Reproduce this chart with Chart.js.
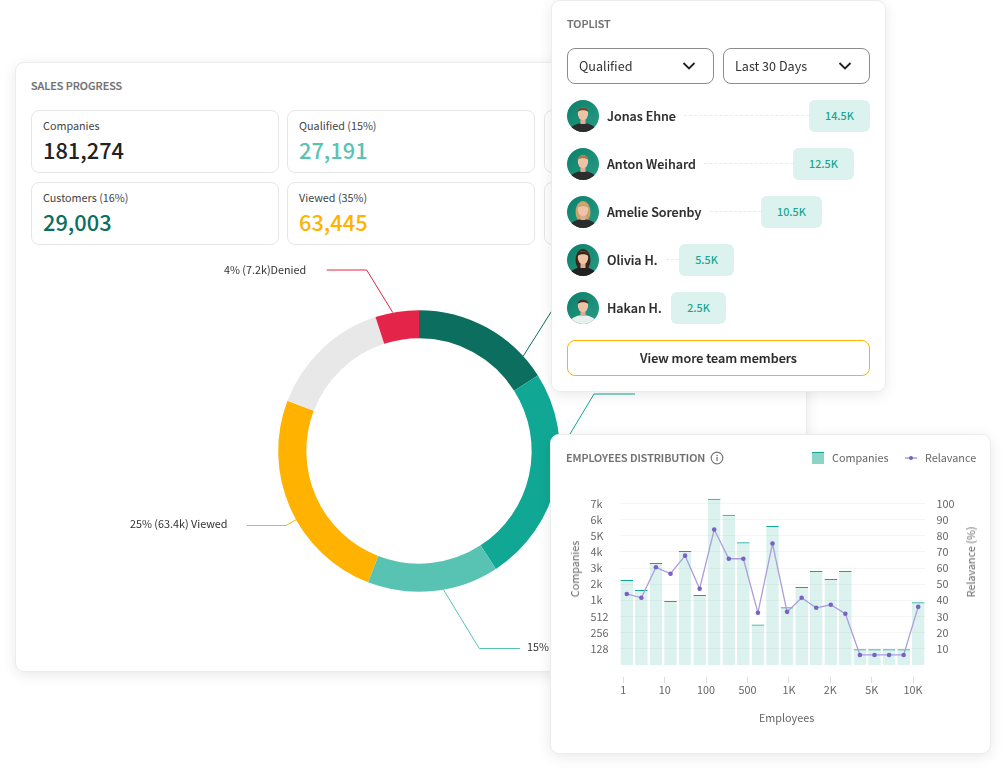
<!DOCTYPE html>
<html>
<head>
<meta charset="utf-8">
<script src="https://cdn.jsdelivr.net/npm/chart.js@4"></script>
<style>
html, body { margin: 0; padding: 0; background: #fff; }
body { width: 1007px; height: 773px; position: relative; overflow: hidden; font-family: 'Noto Sans CJK SC', 'Noto Sans', sans-serif; color: #333; }
.abs { position: absolute; white-space: nowrap; }
.card { position: absolute; background: #fff; border: 1px solid #ececec; border-radius: 9px; box-sizing: border-box; box-shadow: 0 3px 14px rgba(0,0,0,.09); }
.heading { font-size: 10.8px; font-weight: 500; color: #6f6f6f; line-height: 16px; -webkit-text-stroke: .2px #6f6f6f; }
.kpi { position: absolute; width: 248px; height: 63px; border: 1px solid #e6e6e6; border-radius: 8px; box-sizing: border-box; }
.kpi .lab { position: absolute; left: 11px; top: 5px; font-size: 10.8px; line-height: 18px; color: #444; white-space: nowrap; }
.kpi .num { position: absolute; left: 11px; top: 23px; font-size: 21.8px; line-height: 32px; font-weight: 500; white-space: nowrap; }
.select { position: absolute; top: 48px; width: 147.5px; height: 36px; border: 1px solid #8c8c8c; border-radius: 8px; box-sizing: border-box; font-size: 12.6px; line-height: 34px; padding-left: 11.5px; }
.select svg { position: absolute; right: 17px; top: 12px; }
.name { position: absolute; left: 607px; font-size: 12.6px; line-height: 20px; font-weight: 500; color: #2b2b2b; white-space: nowrap; -webkit-text-stroke: .2px #2b2b2b; }
.pill { position: absolute; height: 32px; background: #dcf2ee; border-radius: 6px; text-align: center; font-size: 10.8px; line-height: 31px; font-weight: 500; color: #16a894; }
.dash { position: absolute; border-top: 1px dashed #dcf2ee; height: 0; }
.avatar { position: absolute; left: 567px; width: 32px; height: 32px; border-radius: 50%; overflow: hidden; }
.btn { position: absolute; left: 567px; top: 340px; width: 303px; height: 36px; border: 1px solid #ffb300; border-radius: 8px; box-sizing: border-box; text-align: center; font-size: 12.6px; font-weight: 500; line-height: 34px; color: #2b2b2b; -webkit-text-stroke: .2px #2b2b2b; }
.axis { font-size: 10.8px; line-height: 16px; color: #666; }
.vert { transform: translate(-50%, -50%) rotate(-90deg); }
.doughnutLabel { font-size: 10.8px; line-height: 16px; color: #333; }
</style>
</head>
<body>

<div class="card" style="left:15px;top:62px;width:792px;height:610px"></div>
<div class="abs heading" style="left:31px;top:77px">SALES PROGRESS</div>
<div id="kpis"></div>

<canvas id="salesChart" width="442" height="400" style="position:absolute;left:198px;top:251px"></canvas>
<div class="abs doughnutLabel" style="left:224px;top:261px">4% (7.2k)Denied</div>
<div class="abs doughnutLabel" style="left:130px;top:515px">25% (63.4k) Viewed</div>
<div class="abs doughnutLabel" style="left:527px;top:638px">15% (27.2k) Qualified</div>

<div class="card" style="left:551px;top:0;width:335px;height:392px"></div>
<div class="abs heading" style="left:567px;top:15px">TOPLIST</div>
<div class="select" style="left:566.5px">Qualified<svg width="14" height="10" viewBox="0 0 14 10"><path d="M1.5 2 L7 7.5 L12.5 2" fill="none" stroke="#222" stroke-width="1.8"/></svg></div>
<div class="select" style="left:722.5px">Last 30 Days<svg width="14" height="10" viewBox="0 0 14 10"><path d="M1.5 2 L7 7.5 L12.5 2" fill="none" stroke="#222" stroke-width="1.8"/></svg></div>
<div id="toplist"></div>
<div class="btn">View more team members</div>

<div class="card" style="left:550px;top:434px;width:441px;height:320px"></div>
<div class="abs heading" style="left:566px;top:449px">EMPLOYEES DISTRIBUTION</div>
<svg class="abs" style="left:710px;top:451px" width="14" height="14" viewBox="0 0 14 14"><circle cx="7" cy="7" r="5.8" fill="none" stroke="#777" stroke-width="1.2"/><rect x="6.4" y="6" width="1.3" height="4" fill="#777"/><rect x="6.4" y="3.8" width="1.3" height="1.3" fill="#777"/></svg>

<div class="abs" style="left:812px;top:452px;width:12px;height:12px;background:#8bd4c7;border-top:1px solid #10a894;box-sizing:border-box"></div>
<div class="abs axis" style="left:832px;top:449px">Companies</div>
<svg class="abs" style="left:905px;top:454px" width="12" height="8"><line x1="0" y1="4" x2="12" y2="4" stroke="#a497d8" stroke-width="1.4"/><circle cx="6" cy="4" r="2" fill="#7b61c4"/></svg>
<div class="abs axis" style="left:925px;top:449px">Relavance</div>

<canvas id="employeesChart" width="425" height="226" style="position:absolute;left:560px;top:479px"></canvas>
<div class="abs axis vert" style="left:574px;top:569px">Companies</div>
<div class="abs axis vert" style="left:970px;top:562px">Relavance (%)</div>
<div class="abs axis" style="left:759px;top:709px">Employees</div>

<script>
// KPI tiles
const kpiLabels = ['Companies', 'Qualified (15%)', '', 'Customers (16%)', 'Viewed (35%)', ''];
const kpiValues = ['181,274', '27,191', '', '29,003', '63,445', ''];
const kpiColors = ['#222222', '#59c3b3', '#222222', '#0b6e5f', '#ffb300', '#222222'];

// Doughnut (share of the circle in %, clockwise from the top)
const sliceNames = ['Customers', 'Contacted', 'Qualified', 'Viewed', 'Other', 'Denied'];
const sliceShares = [16, 24.8, 15.1, 24.9, 14.2, 5];
const sliceColors = ['#0b6e5f', '#10a894', '#59c3b3', '#ffb300', '#e8e8e8', '#e52449'];

// Toplist
const topNames = ['Jonas Ehne', 'Anton Weihard', 'Amelie Sorenby', 'Olivia H.', 'Hakan H.'];
const topValues = ['14.5K', '12.5K', '10.5K', '5.5K', '2.5K'];

// Employees distribution
const employeeBuckets = ['b1','b2','b3','b4','b5','b6','b7','b8','b9','b10','b11','b12','b13','b14','b15','b16','b17','b18','b19','b20','b21'];
const companies = [2260, 1640, 3320, 980, 4060, 1330, 7290, 6300, 4600, 385, 5610, 795, 1830, 2820, 2320, 2820, 124, 124, 124, 124, 945];
const relevance = [44, 41.6, 60.5, 56.5, 67.7, 47.2, 83.9, 65.8, 65.8, 32.3, 75.2, 32.9, 41.6, 35.4, 37.3, 31.7, 6.2, 6.2, 6.2, 6.2, 36];
const companyTickValues = [128, 256, 512, 1000, 2000, 3000, 4000, 5000, 6000, 7000];
const companyTickLabels = ['128', '256', '512', '1k', '2k', '3k', '4k', '5K', '6k', '7k'];
const employeeTickLabels = ['1', '10', '100', '500', '1K', '2K', '5K', '10K'];

const FONT = "'Noto Sans CJK SC', 'Noto Sans', sans-serif";
const TICK_COLOR = '#666666';
const TICK_SIZE = 10.8;

// The company axis has evenly spaced ticks with uneven values
function companyPosition(value) {
    if (value <= companyTickValues[0]) return value / companyTickValues[0];
    for (let i = 1; i < companyTickValues.length; i++) {
        if (value <= companyTickValues[i]) {
            const low = companyTickValues[i - 1];
            return i + (value - low) / (companyTickValues[i] - low);
        }
    }
    return companyTickValues.length + (value - 7000) / 1000;
}

function renderKpis() {
    const tileLeft = [31, 287, 544];
    const box = document.getElementById('kpis');
    kpiLabels.forEach((label, i) => {
        const tile = document.createElement('div');
        tile.className = 'kpi';
        tile.style.left = tileLeft[i % 3] + 'px';
        tile.style.top = (i < 3 ? 110 : 182) + 'px';
        if (label) {
            tile.innerHTML = `<div class="lab">${label}</div><div class="num" style="color:${kpiColors[i]}">${kpiValues[i]}</div>`;
        }
        box.appendChild(tile);
    });
}

function avatarSvg(i) {
    const shirts = ['#2c2c2c', '#2c2c2c', '#2c2c2c', '#222222', '#e9efec'];
    const hairs = ['#6b4a32', '#a8784e', '#c9a36e', '#3b2618', '#3f3129'];
    const longHair = i === 2 || i === 3;
    return `<svg width="32" height="32" viewBox="0 0 32 32">
        <defs><linearGradient id="av${i}" x1="0" y1="0" x2="1" y2="1"><stop offset="0" stop-color="#0b7f69"/><stop offset="1" stop-color="#2a9c86"/></linearGradient></defs>
        <rect width="32" height="32" fill="url(#av${i})"/>
        ${longHair ? `<ellipse cx="16" cy="16" rx="7.5" ry="11" fill="${hairs[i]}"/>` : ''}
        <ellipse cx="16" cy="32" rx="14" ry="9" fill="${shirts[i]}"/>
        <rect x="13.5" y="17" width="5" height="7" fill="#dfae92"/>
        <ellipse cx="16" cy="13.5" rx="5.2" ry="6.6" fill="#eec3a8"/>
        <path d="M10.6 12 C10.6 5.5 21.4 5.5 21.4 12 C19 9.6 13 9.6 10.6 12 Z" fill="${hairs[i]}"/>
    </svg>`;
}

function renderToplist() {
    const pillLeft = [809, 793, 761, 679, 671];
    const pillWidth = [61, 61, 61, 55, 55];
    const dashLeft = [684, 704, 710, 666, 0];
    const box = document.getElementById('toplist');
    topNames.forEach((name, i) => {
        const top = 100 + i * 48;
        let html = `<div class="avatar" style="top:${top}px">${avatarSvg(i)}</div>`;
        html += `<div class="name" style="top:${top + 6}px">${name}</div>`;
        if (dashLeft[i]) {
            html += `<div class="dash" style="left:${dashLeft[i]}px;top:${top + 15}px;width:${pillLeft[i] - dashLeft[i]}px"></div>`;
        }
        html += `<div class="pill" style="left:${pillLeft[i]}px;top:${top}px;width:${pillWidth[i]}px">${topValues[i]}</div>`;
        box.insertAdjacentHTML('beforeend', html);
    });
}

// Leader lines: anchor angle on the ring, then elbow and end relative to the centre
const leaderLines = [
    { slice: 0, angle: 47.7, elbow: [151, -169], end: [191, -169] },
    { slice: 1, angle: 90, elbow: [175, -57], end: [216, -57] },
    { slice: 2, angle: 170, elbow: [60.3, 197.5], end: [101, 197.5] },
    { slice: 3, angle: 240.8, elbow: [-133, 74.5], end: [-172.3, 74.5] },
    { slice: 5, angle: 349.3, elbow: [-52.3, -181], end: [-92.3, -181] }
];

const leaderPlugin = {
    id: 'leaderLines',
    afterDatasetsDraw(chart) {
        const ctx = chart.ctx;
        const arcs = chart.getDatasetMeta(0).data;
        leaderLines.forEach(line => {
            const arc = arcs[line.slice];
            const rad = (line.angle - 90) * Math.PI / 180;
            ctx.save();
            ctx.beginPath();
            ctx.moveTo(arc.x + Math.cos(rad) * arc.outerRadius, arc.y + Math.sin(rad) * arc.outerRadius);
            ctx.lineTo(arc.x + line.elbow[0], arc.y + line.elbow[1]);
            ctx.lineTo(arc.x + line.end[0], arc.y + line.end[1]);
            ctx.strokeStyle = sliceColors[line.slice];
            ctx.lineWidth = 1;
            ctx.stroke();
            ctx.restore();
        });
    }
};

function renderSalesChart() {
    new Chart(document.getElementById('salesChart'), {
        type: 'doughnut',
        data: {
            labels: sliceNames,
            datasets: [{ data: sliceShares, backgroundColor: sliceColors, borderWidth: 0 }]
        },
        options: {
            responsive: false,
            animation: false,
            cutout: '80%',
            layout: { padding: { top: 59.2, bottom: 59.2 } },
            plugins: { legend: { display: false }, tooltip: { enabled: false } }
        },
        plugins: [leaderPlugin]
    });
}

function renderEmployeesChart() {
    new Chart(document.getElementById('employeesChart'), {
        data: {
            labels: employeeBuckets,
            datasets: [
                {
                    type: 'line',
                    label: 'Relavance',
                    data: relevance,
                    yAxisID: 'yRight',
                    xAxisID: 'x',
                    borderColor: '#aa9ddb',
                    borderWidth: 1.3,
                    pointBackgroundColor: '#7b61c4',
                    pointBorderWidth: 0,
                    pointRadius: 2.3,
                    tension: 0
                },
                {
                    type: 'bar',
                    label: 'Companies',
                    data: companies.map(companyPosition),
                    yAxisID: 'y',
                    xAxisID: 'x',
                    backgroundColor: 'rgba(16,168,148,0.15)',
                    borderColor: '#10a894',
                    borderWidth: { top: 1, right: 0, bottom: 0, left: 0 },
                    borderSkipped: false,
                    barPercentage: 0.87,
                    categoryPercentage: 1
                }
            ]
        },
        options: {
            responsive: false,
            animation: false,
            layout: { padding: { left: 30.5, top: 7, right: 0, bottom: 0 } },
            plugins: { legend: { display: false }, tooltip: { enabled: false } },
            scales: {
                x: { display: false, offset: true },
                xTicks: {
                    type: 'linear',
                    axis: 'x',
                    position: 'bottom',
                    min: -0.092,
                    max: 7.3,
                    afterBuildTicks: scale => { scale.ticks = employeeTickLabels.map((_, i) => ({ value: i })); },
                    afterFit: scale => { scale.height = 28; },
                    border: { display: false },
                    grid: { drawOnChartArea: false, tickLength: 6, tickColor: '#dddddd' },
                    ticks: {
                        autoSkip: false,
                        maxRotation: 0,
                        padding: 0,
                        color: TICK_COLOR,
                        font: { family: FONT, size: TICK_SIZE },
                        callback: value => employeeTickLabels[value]
                    }
                },
                y: {
                    position: 'left',
                    min: -0.745,
                    max: 10.435,
                    afterBuildTicks: scale => { scale.ticks = companyTickValues.map((_, i) => ({ value: i + 1 })); },
                    afterFit: scale => { scale.width = 29; },
                    border: { display: false },
                    grid: { color: '#f5f5f5', drawTicks: false },
                    ticks: {
                        crossAlign: 'far',
                        color: TICK_COLOR,
                        font: { family: FONT, size: TICK_SIZE },
                        callback: value => companyTickLabels[value - 1]
                    }
                },
                yRight: {
                    position: 'right',
                    min: -7.45,
                    max: 104.35,
                    afterBuildTicks: scale => { scale.ticks = [10, 20, 30, 40, 50, 60, 70, 80, 90, 100].map(value => ({ value })); },
                    afterFit: scale => { scale.width = 59.5; },
                    border: { display: false },
                    grid: { display: false, drawTicks: false },
                    ticks: {
                        padding: 11,
                        color: TICK_COLOR,
                        font: { family: FONT, size: TICK_SIZE }
                    }
                }
            }
        }
    });
}

renderKpis();
renderToplist();
renderSalesChart();
renderEmployeesChart();
</script>
</body>
</html>
